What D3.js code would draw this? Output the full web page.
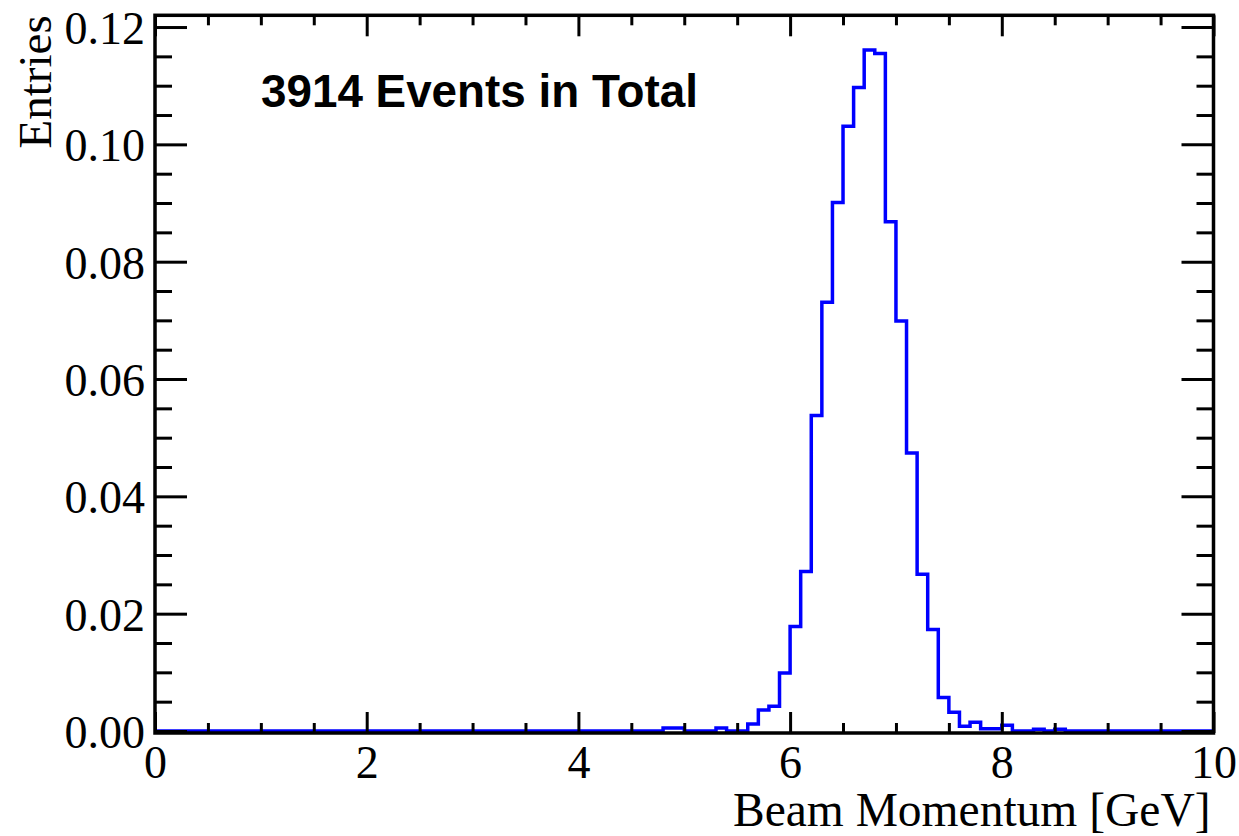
<!DOCTYPE html>
<html>
<head>
<meta charset="utf-8">
<script src="https://cdn.jsdelivr.net/npm/d3@7"></script>
<style>
  html, body { margin: 0; padding: 0; background: #fff; }
  svg { display: block; }
</style>
</head>
<body>
<svg id="chart" width="1239" height="836"></svg>
<script>
// Histogram binning: 100 bins of 0.1 GeV from 0 to 10 GeV
const xMin = 0, xMax = 10, nBins = 100;

// Normalised entries per bin (bin i covers [i*0.1, (i+1)*0.1) GeV)
const binValues = [
  0, 0, 0, 0, 0, 0, 0, 0, 0, 0,                                    // 0.0 - 1.0
  0, 0, 0, 0, 0, 0, 0, 0, 0, 0,                                    // 1.0 - 2.0
  0, 0, 0, 0, 0, 0, 0, 0, 0, 0,                                    // 2.0 - 3.0
  0, 0, 0, 0, 0, 0, 0, 0, 0, 0,                                    // 3.0 - 4.0
  0, 0, 0, 0, 0, 0, 0, 0, 0.0005, 0.0005,                          // 4.0 - 5.0
  0, 0, 0, 0.0005, 0, 0, 0.0012, 0.0036, 0.0042, 0.0099,           // 5.0 - 6.0
  0.0178, 0.0272, 0.0538, 0.0731, 0.0901, 0.1031, 0.1097, 0.1161, 0.1155, 0.0868, // 6.0 - 7.0
  0.0699, 0.0474, 0.0267, 0.0173, 0.0057, 0.0032, 0.0008, 0.0015, 0.0004, 0.0004, // 7.0 - 8.0
  0.0010, 0, 0, 0.0003, 0, 0.0003, 0, 0, 0, 0,                     // 8.0 - 9.0
  0, 0, 0, 0, 0, 0, 0, 0, 0, 0                                     // 9.0 - 10.0
];

// Axis ticks and labels
const xMajorTicks = [0, 2, 4, 6, 8, 10];
const xMinorTicks = [0.5, 1, 1.5, 2.5, 3, 3.5, 4.5, 5, 5.5, 6.5, 7, 7.5, 8.5, 9, 9.5];
const yMajorTicks = [0, 0.02, 0.04, 0.06, 0.08, 0.10, 0.12];
const yMinorTicks = [0.005, 0.01, 0.015, 0.025, 0.03, 0.035, 0.045, 0.05, 0.055,
                     0.065, 0.07, 0.075, 0.085, 0.09, 0.095, 0.105, 0.11, 0.115];
const yMax = 0.122;

const xTitle = "Beam Momentum [GeV]";
const yTitle = "Entries";
const noteText = "3914 Events in Total";

// Layout
const frameLeft = 155, frameRight = 1213.5, frameTop = 15.3, zeroY = 731;
const frameBottom = zeroY + 2;

const svg = d3.select("#chart");

const x = d3.scaleLinear().domain([xMin, xMax]).range([frameLeft, frameRight]);
const y = d3.scaleLinear().domain([0, yMax]).range([zeroY, frameTop]);

const serif = "'Liberation Serif', 'Times New Roman', serif";
const labelSize = 46;

// Histogram outline drawn as a step line
const binWidth = (xMax - xMin) / nBins;
const stepPts = [];
binValues.forEach((v, i) => {
  const lo = xMin + i * binWidth, hi = lo + binWidth;
  stepPts.push([x(lo), y(v)]);
  stepPts.push([x(hi), y(v)]);
});
svg.append("path")
  .attr("d", d3.line()(stepPts))
  .attr("fill", "none")
  .attr("stroke", "#0000ff")
  .attr("stroke-width", 3.5)
  .attr("stroke-linejoin", "miter");

// Axes with inward-pointing ticks on all four sides
function styleAxis(g) {
  g.select(".domain").remove();
  g.selectAll(".tick line").attr("stroke", "#000").attr("stroke-width", 3);
}

// bottom
svg.append("g")
  .attr("transform", `translate(0,${frameBottom})`)
  .call(d3.axisBottom(x).tickValues(xMajorTicks).tickSize(-21).tickPadding(12)
        .tickFormat(d3.format("d")))
  .call(styleAxis)
  .call(g => g.selectAll("text")
    .attr("font-family", serif).attr("font-size", labelSize).attr("fill", "#000"));
svg.append("g")
  .attr("transform", `translate(0,${frameBottom})`)
  .call(d3.axisBottom(x).tickValues(xMinorTicks).tickSize(-10).tickFormat(""))
  .call(styleAxis);

// top
svg.append("g")
  .attr("transform", `translate(0,${frameTop})`)
  .call(d3.axisTop(x).tickValues(xMajorTicks).tickSize(-21).tickFormat(""))
  .call(styleAxis);
svg.append("g")
  .attr("transform", `translate(0,${frameTop})`)
  .call(d3.axisTop(x).tickValues(xMinorTicks).tickSize(-10).tickFormat(""))
  .call(styleAxis);

// left
svg.append("g")
  .attr("transform", `translate(${frameLeft},0)`)
  .call(d3.axisLeft(y).tickValues(yMajorTicks).tickSize(-32).tickPadding(10)
        .tickFormat(d3.format(".2f")))
  .call(styleAxis)
  .call(g => g.selectAll("text")
    .attr("font-family", serif).attr("font-size", labelSize).attr("fill", "#000")
    .attr("dy", "0.36em"));
svg.append("g")
  .attr("transform", `translate(${frameLeft},0)`)
  .call(d3.axisLeft(y).tickValues(yMinorTicks).tickSize(-17).tickFormat(""))
  .call(styleAxis);

// right
svg.append("g")
  .attr("transform", `translate(${frameRight},0)`)
  .call(d3.axisRight(y).tickValues(yMajorTicks).tickSize(-32).tickFormat(""))
  .call(styleAxis);
svg.append("g")
  .attr("transform", `translate(${frameRight},0)`)
  .call(d3.axisRight(y).tickValues(yMinorTicks).tickSize(-17).tickFormat(""))
  .call(styleAxis);

// Frame
svg.append("rect")
  .attr("x", frameLeft).attr("y", frameTop)
  .attr("width", frameRight - frameLeft).attr("height", frameBottom - frameTop)
  .attr("fill", "none").attr("stroke", "#000").attr("stroke-width", 3.5);

// Axis titles
svg.append("text")
  .attr("x", frameRight - 3).attr("y", 826)
  .attr("text-anchor", "end")
  .attr("font-family", serif).attr("font-size", 47.5)
  .text(xTitle);

svg.append("text")
  .attr("transform", `translate(51,${frameTop}) rotate(-90)`)
  .attr("text-anchor", "end")
  .attr("font-family", serif).attr("font-size", 47)
  .text(yTitle);

// Annotation
svg.append("text")
  .attr("x", 261).attr("y", 106.5)
  .attr("font-family", "'Liberation Sans', Arial, Helvetica, sans-serif")
  .attr("font-weight", "bold").attr("font-size", 45.8)
  .text(noteText);
</script>
</body>
</html>
